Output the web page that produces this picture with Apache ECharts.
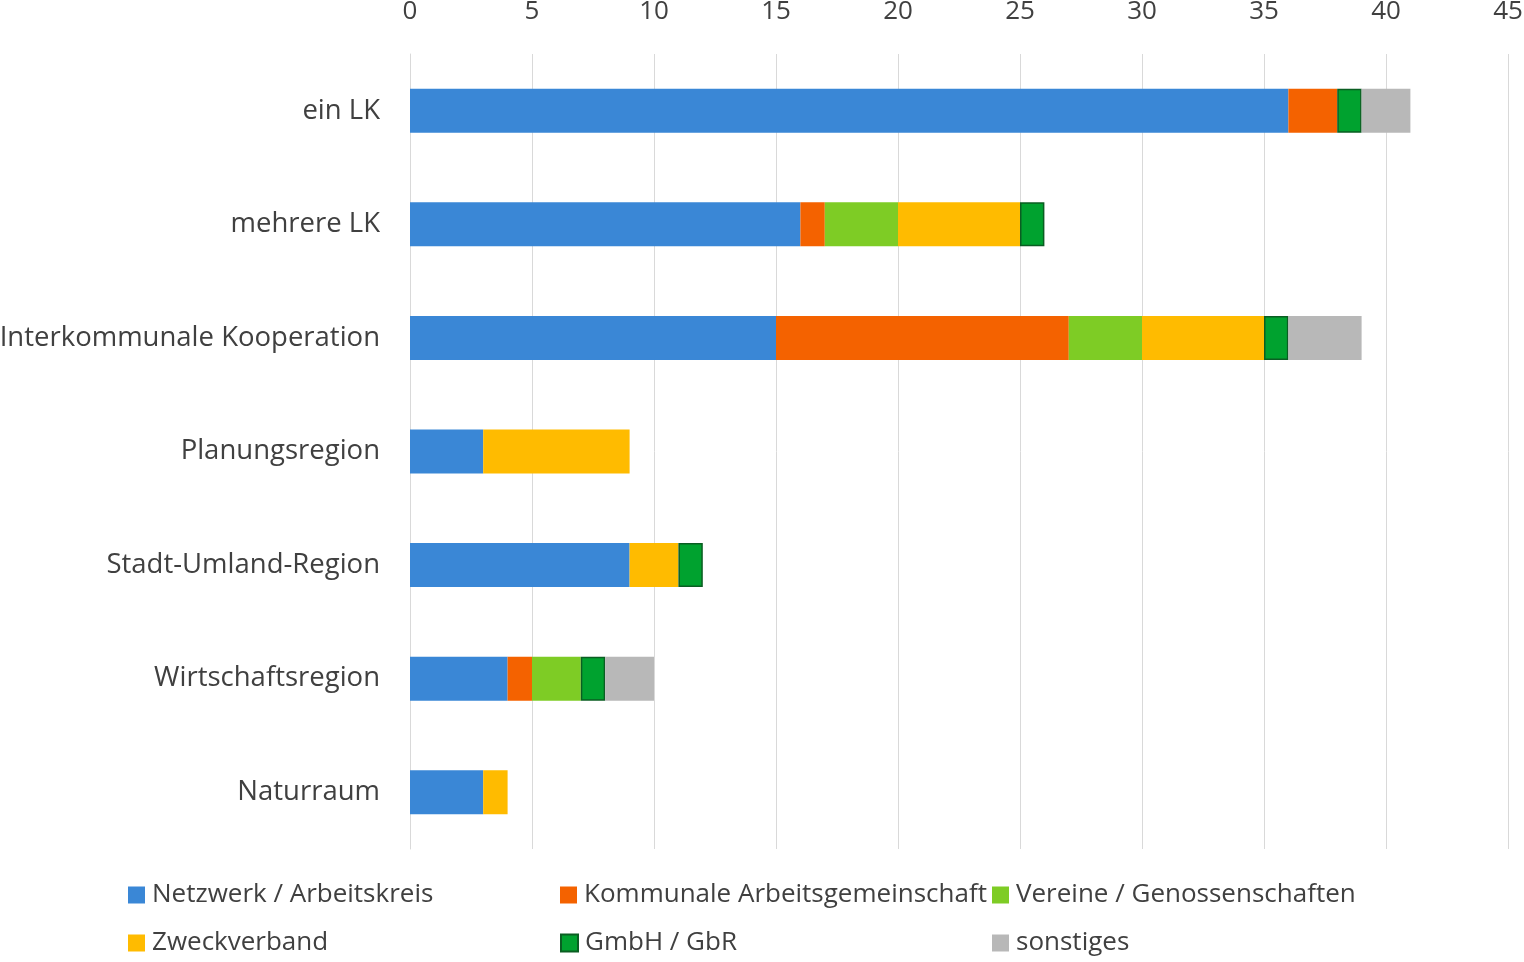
<!DOCTYPE html>
<html>
<head>
<meta charset="utf-8">
<script src="https://cdn.jsdelivr.net/npm/echarts@6/dist/echarts.min.js"></script>
<style>
  html, body { margin: 0; padding: 0; background: #fff; }
  #chart { width: 1524px; height: 962px; }
</style>
</head>
<body>
<div id="chart"></div>
<script>
const categories = ['ein LK', 'mehrere LK', 'Interkommunale Kooperation', 'Planungsregion', 'Stadt-Umland-Region', 'Wirtschaftsregion', 'Naturraum'];
const seriesNames = ['Netzwerk / Arbeitskreis', 'Kommunale Arbeitsgemeinschaft', 'Vereine / Genossenschaften', 'Zweckverband', 'GmbH / GbR', 'sonstiges'];
const netzwerk = [36, 16, 15, 3, 9, 4, 3];
const kommunale = [2, 1, 12, 0, 0, 1, 0];
const vereine = [0, 3, 3, 0, 0, 2, 0];
const zweckverband = [0, 5, 5, 6, 2, 0, 1];
const gmbh = [1, 1, 1, 0, 1, 1, 0];
const sonstiges = [2, 0, 3, 0, 0, 2, 0];
const colors = ['#3a87d6', '#f46200', '#7ecc25', '#ffbb00', '#00a22f', '#b8b8b8'];

const values = [netzwerk, kommunale, vereine, zweckverband, gmbh, sonstiges];
const font = 'Open Sans';

const chart = echarts.init(document.getElementById('chart'));

// one legend per item so the columns line up like the original
const legendPos = [
  { left: 128, top: 882 }, { left: 560, top: 882 }, { left: 992, top: 882 },
  { left: 128, top: 930 }, { left: 560, top: 930 }, { left: 992, top: 930 }
];

chart.setOption({
  animation: false,
  color: colors,
  grid: { left: 410, right: 16, top: 54, height: 795, outerBoundsMode: 'none' },
  xAxis: {
    type: 'value',
    position: 'top',
    min: 0,
    max: 45,
    interval: 5,
    axisLine: { show: false },
    axisTick: { show: false },
    axisLabel: { fontFamily: font, fontSize: 26, color: '#404040', margin: 29 },
    splitLine: { lineStyle: { color: '#d9d9d9', width: 1 } }
  },
  yAxis: {
    type: 'category',
    inverse: true,
    data: categories,
    axisLine: { lineStyle: { color: '#d9d9d9' } },
    axisTick: { show: false },
    axisLabel: { fontFamily: font, fontSize: 27.5, color: '#404040', margin: 30 }
  },
  legend: legendPos.map((p, i) => ({
    left: p.left,
    top: p.top,
    padding: 0,
    data: [seriesNames[i]],
    itemWidth: 17,
    itemHeight: 17,
    icon: 'rect',
    textStyle: { fontFamily: font, fontSize: 26, color: '#404040', padding: [0, 0, 0, 2] }
  })),
  series: seriesNames.map((name, i) => ({
    name: name,
    type: 'bar',
    stack: 'total',
    barWidth: 44,
    // zero segments left out so they draw no border sliver
    data: values[i].map(v => (v === 0 ? '-' : v)),
    itemStyle: i === 4 ? { borderColor: '#0a5e22', borderWidth: 1.5 } : {}
  }))
});
</script>
</body>
</html>
